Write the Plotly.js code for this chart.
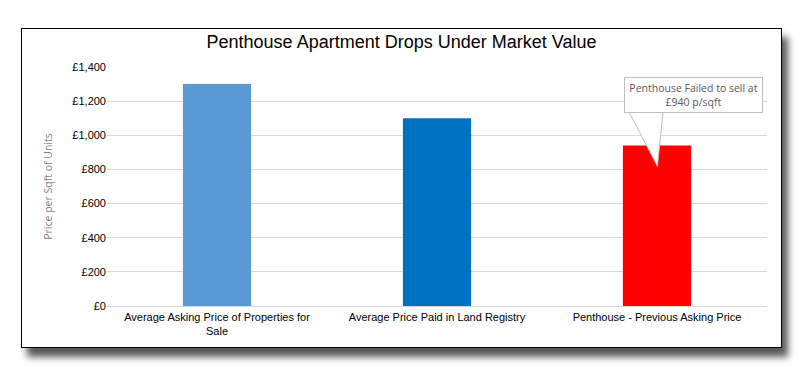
<!DOCTYPE html>
<html><head><meta charset="utf-8">
<script src="https://cdn.plot.ly/plotly-3.0.1.min.js"></script>
<style>
html,body{margin:0;padding:0;background:#fff;width:802px;height:367px;overflow:hidden;}
#frame{position:absolute;left:21px;top:28px;width:759px;height:318px;border:1px solid #000;background:#fff;box-shadow:6px 9px 7px #5a5a5a;}
#chart{width:759px;height:318px;}
</style></head>
<body><div id="frame"><div id="chart"></div></div>
<script>
const categories = ["Average Asking Price of Properties for<br>Sale", "Average Price Paid in Land Registry", "Penthouse - Previous Asking Price"];
const values = [1300, 1100, 940];
const barColors = ["#5b9bd5", "#0070c0", "#ff0000"];
const yTicks = [0, 200, 400, 600, 800, 1000, 1200, 1400];
const yTickText = yTicks.map(v => "£" + v.toLocaleString("en-GB"));
const titleText = "Penthouse Apartment Drops Under Market Value";
const yTitle = "Price per Sqft of Units";
const noteText = "Penthouse Failed to sell at<br>£940 p/sqft";

const FONT = "Liberation Sans, Arial, sans-serif";
const trace = {type:"bar", x:categories, y:values, marker:{color:barColors}, width:0.31, hoverinfo:"none"};
const layout = {
  width:759, height:318,
  margin:{l:85, r:14, t:38, b:41, pad:0},
  paper_bgcolor:"#fff", plot_bgcolor:"#fff",
  showlegend:false,
  title:{text:titleText, font:{family:FONT, size:18, color:"#000"}, x:0.5, xanchor:"center", y:0.96, yanchor:"middle"},
  xaxis:{type:"category", tickfont:{family:FONT, size:11, color:"#000"}, showline:false, ticks:"", showgrid:false, fixedrange:true, ticklabelstandoff:3},
  yaxis:{range:[0,1400], tickmode:"array", tickvals:yTicks, ticktext:yTickText,
    tickfont:{family:FONT, size:11, color:"#000"}, gridcolor:"#d9d9d9", gridwidth:1,
    zeroline:true, zerolinecolor:"#d9d9d9", zerolinewidth:1, showline:false, ticks:"", ticklen:0, automargin:false,
    title:{text:yTitle, font:{family:"Open Sans", size:10.5, color:"#7f7f7f"}, standoff:17}},
  shapes:[{type:"path", xref:"paper", yref:"paper", layer:"above",
    path:"M 0.7909 0.812 L 0.834 0.584 L 0.8424 0.812 Z", fillcolor:"#fff", line:{color:"#bfbfbf", width:1}}],
  annotations:[{xref:"paper", yref:"paper", x:0.888, y:0.882, xanchor:"center", yanchor:"middle",
    text:noteText, showarrow:false, align:"center", bgcolor:"#fff", bordercolor:"#bfbfbf", borderwidth:1, borderpad:2,
    width:133, height:30, font:{family:"Open Sans", size:10.5, color:"#595959"}}]
};
Plotly.newPlot("chart", [trace], layout, {displayModeBar:false, staticPlot:true});
</script></body></html>
